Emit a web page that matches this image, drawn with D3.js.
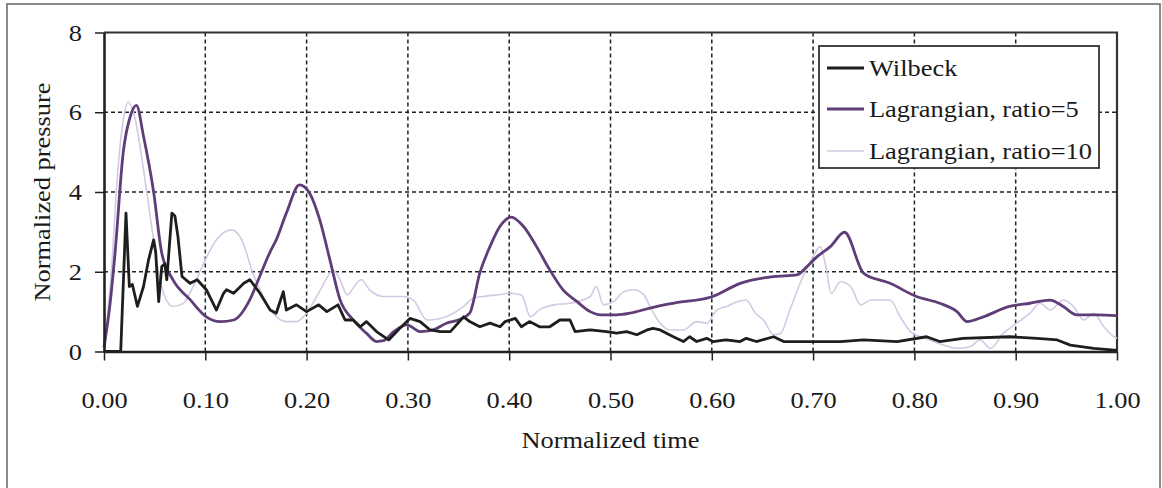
<!DOCTYPE html>
<html><head><meta charset="utf-8">
<script src="https://cdn.jsdelivr.net/npm/d3@7/dist/d3.min.js"></script>
<style>body{margin:0;background:#fff}svg{display:block}text{font-family:"Liberation Serif","Times New Roman",serif;fill:#1a1a1a}</style>
</head><body><svg id="c" width="1162" height="488"></svg>
<script>
const xTicks=[0,0.1,0.2,0.3,0.4,0.5,0.6,0.7,0.8,0.9,1.0];
const yTicks=[0,2,4,6,8];
const seriesNames=["Wilbeck","Lagrangian, ratio=5","Lagrangian, ratio=10"];
const wilbeckT=[0,0.016,0.0165,0.0217,0.025,0.028,0.033,0.039,0.044,0.049,0.051,0.054,0.057,0.060,0.062,0.067,0.070,0.073,0.077,0.085,0.092,0.101,0.111,0.118,0.121,0.128,0.138,0.144,0.154,0.164,0.170,0.177,0.180,0.190,0.200,0.212,0.220,0.231,0.238,0.246,0.253,0.259,0.269,0.281,0.292,0.302,0.312,0.322,0.332,0.342,0.355,0.361,0.371,0.381,0.391,0.396,0.406,0.412,0.420,0.430,0.440,0.450,0.460,0.465,0.480,0.496,0.506,0.516,0.526,0.536,0.542,0.549,0.562,0.572,0.578,0.585,0.595,0.601,0.614,0.628,0.634,0.644,0.661,0.671,0.727,0.750,0.783,0.812,0.825,0.848,0.894,0.921,0.941,0.954,0.977,1.0];
const wilbeckP=[0,0,0,3.47,1.63,1.68,1.13,1.63,2.3,2.8,2.5,1.25,2.13,2.2,1.8,3.47,3.4,2.88,1.88,1.71,1.8,1.55,1.04,1.46,1.55,1.46,1.71,1.8,1.46,1.04,0.96,1.5,1.04,1.17,1.0,1.17,1.0,1.17,0.79,0.79,0.62,0.75,0.5,0.29,0.58,0.83,0.75,0.54,0.5,0.5,0.87,0.75,0.62,0.71,0.62,0.75,0.83,0.62,0.75,0.62,0.62,0.79,0.79,0.5,0.54,0.5,0.46,0.5,0.42,0.54,0.58,0.54,0.37,0.25,0.37,0.25,0.33,0.25,0.29,0.25,0.33,0.25,0.37,0.25,0.25,0.29,0.25,0.37,0.25,0.33,0.37,0.33,0.29,0.16,0.08,0.03];
const ratio5T=[0,0.006,0.011,0.019,0.026,0.032,0.039,0.049,0.057,0.068,0.085,0.101,0.115,0.128,0.144,0.154,0.164,0.170,0.180,0.193,0.203,0.213,0.223,0.233,0.246,0.259,0.269,0.276,0.286,0.299,0.312,0.325,0.338,0.351,0.361,0.371,0.381,0.391,0.402,0.414,0.427,0.440,0.453,0.467,0.480,0.490,0.506,0.519,0.539,0.562,0.601,0.628,0.661,0.684,0.694,0.704,0.717,0.731,0.750,0.776,0.802,0.825,0.842,0.852,0.868,0.894,0.914,0.934,0.947,0.960,0.980,1.0];
const ratio5P=[0.1,1.2,2.5,5.0,5.9,6.17,5.4,4.0,2.47,1.8,1.3,0.87,0.75,0.79,1.3,1.9,2.5,2.8,3.47,4.18,3.97,3.3,2.3,1.3,0.79,0.46,0.25,0.27,0.5,0.67,0.5,0.54,0.71,0.8,0.96,1.97,2.63,3.14,3.37,3.14,2.63,2.05,1.55,1.25,1.0,0.92,0.92,0.96,1.09,1.21,1.38,1.71,1.88,1.92,2.13,2.38,2.63,2.99,1.96,1.71,1.38,1.21,1.0,0.75,0.87,1.13,1.21,1.29,1.13,0.92,0.92,0.9];
const ratio10T=[0,0.0076,0.0125,0.019,0.024,0.031,0.039,0.047,0.054,0.060,0.068,0.078,0.088,0.1,0.111,0.126,0.136,0.147,0.157,0.167,0.180,0.190,0.200,0.210,0.220,0.226,0.233,0.240,0.247,0.254,0.262,0.276,0.295,0.305,0.319,0.332,0.345,0.355,0.365,0.375,0.388,0.401,0.412,0.421,0.430,0.444,0.460,0.480,0.486,0.493,0.503,0.513,0.523,0.533,0.539,0.549,0.559,0.572,0.585,0.595,0.605,0.615,0.625,0.634,0.643,0.651,0.661,0.668,0.677,0.690,0.700,0.707,0.712,0.718,0.727,0.737,0.747,0.757,0.776,0.786,0.796,0.806,0.815,0.829,0.842,0.855,0.865,0.875,0.888,0.901,0.914,0.924,0.934,0.947,0.957,0.967,0.977,0.987,0.997,1.0];
const ratio10P=[0.1,2.13,4.14,5.8,6.25,5.8,4.56,3.14,1.96,1.38,1.13,1.2,1.63,2.3,2.8,3.05,2.8,1.96,1.38,0.96,0.75,0.75,0.96,1.38,1.84,2.05,1.8,1.42,1.63,1.8,1.55,1.38,1.38,1.3,0.79,0.83,0.96,1.13,1.34,1.38,1.42,1.46,1.42,0.87,1.05,1.17,1.21,1.38,1.63,1.17,1.25,1.5,1.55,1.42,1.13,0.71,0.54,0.54,0.75,0.71,1.04,1.13,1.25,1.29,0.96,0.79,0.42,0.46,1.04,1.88,2.38,2.63,2.2,1.46,1.75,1.63,1.17,1.29,1.29,0.87,0.5,0.37,0.29,0.16,0.08,0.12,0.29,0.08,0.46,0.71,0.96,1.21,1.04,1.29,1.13,0.79,0.96,0.62,0.37,0.33];

const svg=d3.select("#c");
const W=1162,H=488;
const SX=1.1, FS=24;
svg.append("rect").attr("width",W).attr("height",H).attr("fill","#fff");
svg.append("rect").attr("x",7).attr("y",4).attr("width",1153).attr("height",500).attr("fill","none").attr("stroke","#666").attr("stroke-width",1.5);

const x=d3.scaleLinear().domain([0,1]).range([104,1117]);
const y=d3.scaleLinear().domain([0,8]).range([351.5,32.5]);

// grid
const g=svg.append("g");
g.selectAll("line.vg").data(xTicks.filter(d=>d>0&&d<1)).join("line")
 .attr("x1",d=>x(d)).attr("x2",d=>x(d)).attr("y1",y(8)).attr("y2",y(0))
 .attr("stroke","#222").attr("stroke-width",1.5).attr("stroke-dasharray","4,3");
g.selectAll("line.hg").data(yTicks.filter(d=>d>0&&d<8)).join("line")
 .attr("y1",d=>y(d)).attr("y2",d=>y(d)).attr("x1",x(0)).attr("x2",x(1))
 .attr("stroke","#222").attr("stroke-width",1.5).attr("stroke-dasharray","4,3");
svg.append("path").attr("d",`M${x(0)},${y(8)}H${x(1)}V${y(0)}`).attr("fill","none").attr("stroke","#333").attr("stroke-width",2.2);

// series
const mk=(T,P)=>T.map((t,i)=>[t,P[i]]);
const series=[
 {data:mk(ratio10T,ratio10P),color:"#d3c9e4",w:1.6,curve:d3.curveMonotoneX},
 {data:mk(ratio5T,ratio5P),color:"#5e3d78",w:2.8,curve:d3.curveMonotoneX},
 {data:mk(wilbeckT,wilbeckP),color:"#1e1e1e",w:2.8,curve:d3.curveLinear}
];
series.forEach(s=>{
  const line=d3.line().x(d=>x(d[0])).y(d=>y(d[1])).curve(s.curve);
  svg.append("path").datum(s.data).attr("d",line).attr("fill","none").attr("stroke",s.color).attr("stroke-width",s.w).attr("stroke-linejoin","round");
});

// axes
const xa=svg.append("g").attr("transform",`translate(0,${y(0)})`)
 .call(d3.axisBottom(x).tickValues(xTicks).tickFormat(d3.format(".2f")).tickSize(9).tickSizeOuter(0));
xa.select(".domain").attr("stroke","#222").attr("stroke-width",2.6);
xa.selectAll(".tick line").attr("stroke","#222").attr("stroke-width",1.5);
xa.selectAll(".tick text").attr("y",39).attr("font-size",FS).attr("fill","#1a1a1a").attr("transform",`scale(${SX},1)`).style("font-family","Liberation Serif");

const ya=svg.append("g").attr("transform",`translate(${x(0)},0)`)
 .call(d3.axisLeft(y).tickValues(yTicks).tickFormat(d3.format("d")).tickSize(9).tickSizeOuter(0));
ya.select(".domain").attr("stroke","#222").attr("stroke-width",2.6);
ya.selectAll(".tick line").attr("stroke","#222").attr("stroke-width",1.5);
ya.selectAll(".tick text").attr("x",-22/SX).attr("font-size",FS).attr("fill","#1a1a1a").attr("transform",`scale(${SX},1)`).style("font-family","Liberation Serif");

// axis titles
svg.append("g").attr("transform",`translate(${(x(0)+x(1))/2},448) scale(${SX},1)`)
 .append("text").attr("text-anchor","middle").attr("font-size",FS).text("Normalized time");
svg.append("g").attr("transform",`translate(50,${(y(0)+y(8))/2}) rotate(-90) scale(${SX},1)`)
 .append("text").attr("text-anchor","middle").attr("font-size",FS).text("Normalized pressure");

// legend
const lg=svg.append("g");
lg.append("rect").attr("x",819).attr("y",46).attr("width",280).attr("height",122).attr("fill","#fff").attr("stroke","#333").attr("stroke-width",1.8);
const ly=[68,109,151];
[series[2],series[1],series[0]].forEach((s,i)=>{
  lg.append("line").attr("x1",827).attr("x2",864).attr("y1",ly[i]).attr("y2",ly[i]).attr("stroke",s.color).attr("stroke-width",s.w);
  lg.append("g").attr("transform",`translate(869,${ly[i]+8}) scale(${SX},1)`).append("text").attr("font-size",FS).text(seriesNames[i]);
});
</script></body></html>
